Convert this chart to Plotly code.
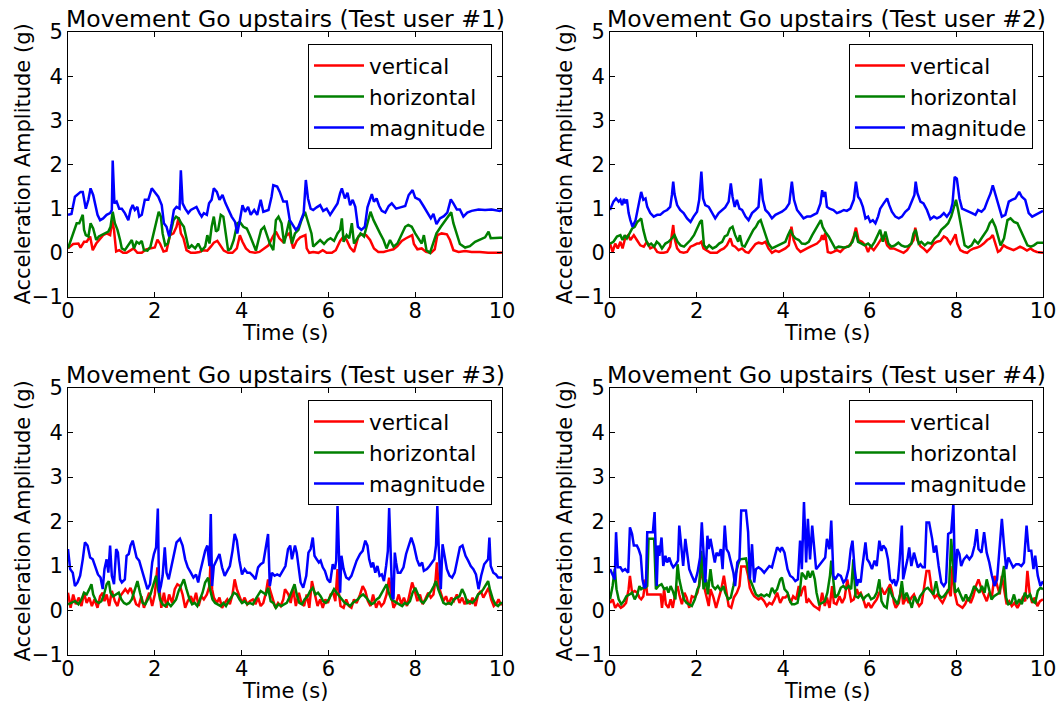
import plotly.graph_objects as go

# ---- Test user #1 ----
u1_vertical_t = [0.0, 0.12, 0.24, 0.29, 0.37, 0.43, 0.51, 0.57, 0.65, 0.74, 0.81, 0.89, 0.97, 1.02, 1.06, 1.11, 1.18, 1.27, 1.35, 1.43, 1.51, 1.6, 1.7, 1.8, 1.9, 2.0, 2.06, 2.12, 2.2, 2.27, 2.35, 2.43, 2.5, 2.55, 2.6, 2.66, 2.73, 2.83, 2.93, 3.03, 3.12, 3.21, 3.29, 3.36, 3.44, 3.52, 3.59, 3.69, 3.79, 3.89, 3.96, 4.02, 4.1, 4.19, 4.31, 4.41, 4.52, 4.62, 4.72, 4.79, 4.87, 4.95, 5.04, 5.1, 5.19, 5.27, 5.35, 5.42, 5.47, 5.5, 5.56, 5.65, 5.77, 5.87, 5.96, 6.08, 6.17, 6.27, 6.35, 6.42, 6.5, 6.59, 6.69, 6.77, 6.87, 6.96, 7.05, 7.15, 7.27, 7.38, 7.5, 7.59, 7.69, 7.79, 7.87, 7.93, 7.97, 8.05, 8.15, 8.25, 8.36, 8.45, 8.51, 8.61, 8.73, 8.8, 8.88, 9.0, 9.15, 9.3, 9.49, 9.68, 9.95, 10.0]
u1_vertical = [0.1, 0.2, 0.21, 0.12, 0.25, 0.25, 0.37, 0.06, 0.21, 0.33, 0.4, 0.44, 0.4, 0.74, 0.52, 0.03, 0.06, 0.0, 0.0, 0.05, 0.1, 0.0, 0.0, 0.08, 0.1, 0.12, 0.3, 0.21, 0.03, 0.05, 0.4, 0.44, 0.59, 0.8, 0.44, 0.33, 0.06, 0.0, 0.0, 0.02, 0.06, 0.05, 0.14, 0.23, 0.27, 0.14, 0.05, 0.0, 0.0, 0.1, 0.4, 0.25, 0.1, 0.02, 0.0, 0.02, 0.1, 0.17, 0.37, 0.48, 0.33, 0.25, 0.4, 0.44, 0.1, 0.27, 0.35, 0.38, 0.4, 0.1, 0.0, 0.02, 0.0, 0.06, 0.0, 0.0, 0.06, 0.27, 0.37, 0.29, 0.12, 0.02, 0.37, 0.42, 0.4, 0.29, 0.1, 0.02, 0.02, 0.05, 0.08, 0.15, 0.27, 0.33, 0.38, 0.4, 0.2, 0.08, 0.1, 0.02, 0.0, 0.08, 0.4, 0.44, 0.42, 0.29, 0.06, 0.02, 0.04, 0.02, 0.02, 0.0, 0.0, 0.01]

u1_horizontal_t = [0.0, 0.07, 0.14, 0.2, 0.26, 0.31, 0.34, 0.37, 0.41, 0.47, 0.52, 0.58, 0.65, 0.71, 0.78, 0.85, 0.93, 0.98, 1.03, 1.08, 1.14, 1.2, 1.24, 1.31, 1.39, 1.47, 1.52, 1.58, 1.64, 1.7, 1.75, 1.83, 1.9, 1.97, 2.03, 2.09, 2.14, 2.18, 2.24, 2.3, 2.37, 2.43, 2.49, 2.55, 2.61, 2.67, 2.72, 2.78, 2.85, 2.93, 3.0, 3.08, 3.16, 3.21, 3.26, 3.31, 3.36, 3.41, 3.46, 3.52, 3.58, 3.63, 3.69, 3.75, 3.82, 3.9, 3.96, 4.04, 4.12, 4.19, 4.27, 4.33, 4.39, 4.45, 4.52, 4.58, 4.65, 4.73, 4.79, 4.85, 4.92, 4.98, 5.04, 5.1, 5.16, 5.23, 5.31, 5.38, 5.46, 5.54, 5.61, 5.65, 5.73, 5.81, 5.9, 5.98, 6.05, 6.13, 6.21, 6.27, 6.31, 6.35, 6.42, 6.48, 6.54, 6.59, 6.67, 6.74, 6.82, 6.9, 6.97, 7.04, 7.11, 7.19, 7.27, 7.34, 7.42, 7.5, 7.59, 7.69, 7.77, 7.84, 7.92, 8.0, 8.07, 8.15, 8.2, 8.26, 8.34, 8.4, 8.49, 8.59, 8.69, 8.76, 8.83, 8.88, 8.96, 9.03, 9.15, 9.26, 9.38, 9.49, 9.61, 9.69, 9.74, 9.95, 10.0]
u1_horizontal = [0.1, 0.29, 0.52, 0.67, 0.67, 0.78, 0.86, 0.52, 0.4, 0.37, 0.67, 0.55, 0.29, 0.37, 0.4, 0.44, 0.48, 0.59, 0.93, 0.67, 0.52, 0.29, 0.1, 0.06, 0.17, 0.29, 0.1, 0.25, 0.21, 0.27, 0.06, 0.05, 0.14, 0.44, 0.74, 0.93, 0.82, 0.44, 0.17, 0.21, 0.48, 0.74, 0.82, 0.78, 0.67, 0.59, 0.37, 0.1, 0.17, 0.1, 0.21, 0.05, 0.14, 0.4, 0.21, 0.59, 0.82, 0.48, 0.52, 0.86, 0.82, 0.44, 0.05, 0.1, 0.29, 0.67, 0.7, 0.59, 0.55, 0.4, 0.17, 0.05, 0.29, 0.52, 0.59, 0.4, 0.21, 0.06, 0.74, 0.82, 0.67, 0.21, 0.52, 0.74, 0.21, 0.44, 0.52, 0.74, 0.93, 0.67, 0.44, 0.14, 0.21, 0.29, 0.2, 0.29, 0.33, 0.27, 0.44, 0.52, 0.78, 0.25, 0.4, 0.33, 0.67, 0.21, 0.33, 0.44, 0.37, 0.67, 0.93, 0.74, 0.59, 0.44, 0.29, 0.1, 0.29, 0.14, 0.21, 0.44, 0.59, 0.63, 0.59, 0.44, 0.33, 0.21, 0.4, 0.06, 0.0, 0.17, 0.44, 0.59, 0.74, 0.82, 0.92, 0.67, 0.4, 0.2, 0.12, 0.15, 0.25, 0.3, 0.35, 0.48, 0.33, 0.34, 0.34]

u1_magnitude_t = [0.0, 0.08, 0.16, 0.24, 0.29, 0.34, 0.37, 0.41, 0.47, 0.52, 0.58, 0.62, 0.68, 0.74, 0.81, 0.89, 0.97, 1.01, 1.03, 1.07, 1.12, 1.18, 1.24, 1.31, 1.39, 1.44, 1.49, 1.54, 1.6, 1.64, 1.7, 1.77, 1.85, 1.93, 2.0, 2.08, 2.16, 2.21, 2.27, 2.33, 2.39, 2.44, 2.5, 2.57, 2.6, 2.64, 2.7, 2.77, 2.83, 2.89, 2.96, 3.03, 3.08, 3.13, 3.2, 3.25, 3.31, 3.36, 3.43, 3.49, 3.56, 3.63, 3.69, 3.77, 3.85, 3.9, 3.96, 4.02, 4.08, 4.15, 4.21, 4.29, 4.36, 4.44, 4.5, 4.62, 4.69, 4.73, 4.82, 4.88, 4.96, 5.04, 5.11, 5.19, 5.25, 5.31, 5.38, 5.43, 5.48, 5.53, 5.59, 5.65, 5.73, 5.81, 5.88, 5.96, 6.04, 6.12, 6.21, 6.27, 6.31, 6.38, 6.44, 6.5, 6.56, 6.62, 6.68, 6.76, 6.84, 6.9, 6.96, 7.0, 7.05, 7.11, 7.17, 7.23, 7.31, 7.39, 7.46, 7.56, 7.66, 7.77, 7.85, 7.94, 8.0, 8.1, 8.19, 8.26, 8.36, 8.42, 8.49, 8.57, 8.66, 8.74, 8.82, 8.88, 8.96, 9.03, 9.11, 9.2, 9.3, 9.46, 9.61, 9.76, 9.95, 10.0]
u1_magnitude = [0.86, 0.88, 1.27, 1.35, 1.38, 1.38, 1.2, 1.0, 1.2, 1.46, 1.31, 1.12, 0.86, 0.74, 0.78, 0.86, 0.9, 0.97, 2.09, 1.12, 1.16, 1.0, 1.0, 0.9, 0.74, 0.97, 1.08, 0.97, 1.04, 0.82, 0.86, 1.2, 1.2, 1.46, 1.38, 1.27, 1.08, 0.67, 0.59, 0.37, 0.67, 0.97, 1.04, 1.0, 1.87, 1.12, 1.0, 0.9, 0.97, 1.0, 1.04, 0.9, 0.82, 0.9, 0.86, 1.12, 1.2, 1.46, 1.38, 1.2, 1.31, 1.12, 1.0, 0.82, 0.7, 0.44, 0.74, 1.08, 0.93, 1.04, 0.86, 0.97, 0.86, 1.2, 0.93, 0.97, 1.27, 1.53, 1.5, 1.38, 1.16, 1.16, 0.74, 0.63, 0.52, 0.59, 0.78, 0.9, 1.65, 1.23, 1.0, 0.97, 1.03, 1.08, 0.95, 1.0, 0.86, 0.97, 1.12, 1.35, 1.46, 1.23, 1.36, 1.08, 1.2, 1.04, 0.59, 0.52, 0.59, 1.03, 1.2, 1.33, 1.16, 1.23, 1.06, 0.95, 0.91, 1.06, 1.12, 1.0, 1.03, 1.06, 1.31, 1.42, 1.25, 1.2, 1.06, 0.95, 0.78, 0.88, 0.65, 0.78, 0.83, 0.91, 1.21, 1.12, 0.98, 0.98, 0.82, 0.91, 0.95, 0.98, 0.97, 0.98, 0.95, 0.97]

# ---- Test user #2 ----
u2_vertical_t = [0.0, 0.06, 0.12, 0.18, 0.24, 0.29, 0.35, 0.42, 0.47, 0.55, 0.62, 0.7, 0.78, 0.85, 0.93, 1.01, 1.09, 1.16, 1.24, 1.32, 1.39, 1.43, 1.46, 1.49, 1.55, 1.62, 1.7, 1.78, 1.86, 1.93, 2.01, 2.06, 2.11, 2.16, 2.24, 2.32, 2.39, 2.47, 2.55, 2.63, 2.7, 2.78, 2.83, 2.89, 2.97, 3.05, 3.13, 3.2, 3.28, 3.36, 3.43, 3.51, 3.59, 3.66, 3.74, 3.82, 3.9, 3.97, 4.05, 4.13, 4.19, 4.24, 4.32, 4.4, 4.47, 4.55, 4.63, 4.7, 4.78, 4.86, 4.9, 4.93, 4.97, 5.03, 5.1, 5.16, 5.24, 5.32, 5.4, 5.47, 5.55, 5.63, 5.68, 5.74, 5.82, 5.9, 5.96, 6.01, 6.09, 6.17, 6.24, 6.32, 6.4, 6.47, 6.55, 6.63, 6.71, 6.78, 6.86, 6.94, 7.01, 7.05, 7.1, 7.17, 7.24, 7.32, 7.4, 7.48, 7.55, 7.63, 7.71, 7.78, 7.86, 7.91, 7.98, 8.02, 8.09, 8.17, 8.25, 8.32, 8.4, 8.48, 8.55, 8.63, 8.71, 8.78, 8.84, 8.9, 8.96, 9.01, 9.09, 9.17, 9.25, 9.32, 9.4, 9.47, 9.55, 9.63, 9.71, 9.78, 9.86, 10.0]
u2_vertical = [0.21, 0.02, 0.21, 0.1, 0.25, 0.1, 0.33, 0.4, 0.29, 0.4, 0.29, 0.17, 0.14, 0.25, 0.1, 0.14, 0.02, 0.0, 0.0, 0.02, 0.14, 0.37, 0.63, 0.33, 0.1, 0.02, 0.0, 0.02, 0.14, 0.17, 0.21, 0.21, 0.25, 0.1, 0.05, 0.0, 0.0, 0.0, 0.06, 0.1, 0.17, 0.33, 0.17, 0.14, 0.06, 0.1, 0.02, 0.0, 0.1, 0.2, 0.23, 0.21, 0.25, 0.1, 0.0, 0.05, 0.02, 0.05, 0.1, 0.17, 0.59, 0.29, 0.1, 0.02, 0.05, 0.1, 0.14, 0.17, 0.21, 0.29, 0.4, 0.29, 0.44, 0.02, 0.0, 0.02, 0.06, 0.02, 0.1, 0.14, 0.17, 0.37, 0.57, 0.29, 0.25, 0.17, 0.02, 0.14, 0.06, 0.17, 0.29, 0.4, 0.17, 0.1, 0.1, 0.06, 0.02, 0.0, 0.06, 0.17, 0.29, 0.57, 0.29, 0.15, 0.1, 0.02, 0.1, 0.21, 0.25, 0.27, 0.37, 0.33, 0.21, 0.29, 0.42, 0.21, 0.06, 0.02, 0.0, 0.06, 0.1, 0.12, 0.15, 0.21, 0.29, 0.33, 0.4, 0.21, 0.02, 0.05, 0.17, 0.12, 0.08, 0.06, 0.1, 0.14, 0.1, 0.05, 0.1, 0.05, 0.02, 0.0]

u2_horizontal_t = [0.0, 0.08, 0.16, 0.24, 0.29, 0.34, 0.39, 0.45, 0.51, 0.57, 0.63, 0.68, 0.72, 0.77, 0.83, 0.89, 0.95, 1.02, 1.08, 1.14, 1.2, 1.28, 1.35, 1.43, 1.49, 1.56, 1.63, 1.71, 1.79, 1.86, 1.94, 2.02, 2.08, 2.12, 2.17, 2.23, 2.29, 2.37, 2.45, 2.52, 2.59, 2.65, 2.71, 2.77, 2.83, 2.89, 2.96, 3.0, 3.05, 3.11, 3.17, 3.25, 3.31, 3.37, 3.43, 3.48, 3.53, 3.59, 3.66, 3.74, 3.82, 3.9, 3.97, 4.05, 4.11, 4.17, 4.22, 4.28, 4.36, 4.43, 4.51, 4.59, 4.67, 4.74, 4.8, 4.87, 4.91, 4.97, 5.05, 5.13, 5.2, 5.28, 5.4, 5.51, 5.6, 5.67, 5.73, 5.81, 5.88, 5.96, 6.04, 6.11, 6.19, 6.24, 6.3, 6.36, 6.43, 6.5, 6.58, 6.66, 6.73, 6.81, 6.88, 6.96, 7.01, 7.06, 7.13, 7.19, 7.27, 7.34, 7.42, 7.5, 7.58, 7.65, 7.73, 7.81, 7.88, 7.94, 7.99, 8.04, 8.08, 8.13, 8.19, 8.27, 8.35, 8.42, 8.5, 8.58, 8.65, 8.71, 8.77, 8.83, 8.9, 8.96, 9.02, 9.1, 9.18, 9.25, 9.33, 9.41, 9.48, 9.56, 9.64, 9.72, 9.79, 9.87, 10.0]
u2_horizontal = [0.21, 0.25, 0.37, 0.4, 0.29, 0.4, 0.33, 0.44, 0.55, 0.59, 0.7, 0.74, 0.78, 0.52, 0.29, 0.17, 0.21, 0.14, 0.25, 0.2, 0.1, 0.21, 0.25, 0.33, 0.4, 0.25, 0.17, 0.14, 0.21, 0.29, 0.4, 0.59, 0.7, 0.74, 0.17, 0.1, 0.17, 0.1, 0.14, 0.21, 0.25, 0.37, 0.4, 0.55, 0.59, 0.4, 0.25, 0.4, 0.17, 0.14, 0.25, 0.4, 0.52, 0.59, 0.7, 0.74, 0.59, 0.4, 0.21, 0.1, 0.14, 0.17, 0.2, 0.25, 0.4, 0.52, 0.4, 0.33, 0.29, 0.21, 0.2, 0.25, 0.4, 0.52, 0.59, 0.74, 0.59, 0.48, 0.37, 0.21, 0.1, 0.14, 0.12, 0.14, 0.25, 0.48, 0.25, 0.21, 0.17, 0.21, 0.14, 0.25, 0.4, 0.52, 0.25, 0.48, 0.21, 0.14, 0.17, 0.23, 0.17, 0.14, 0.15, 0.21, 0.44, 0.52, 0.21, 0.25, 0.17, 0.23, 0.21, 0.33, 0.4, 0.52, 0.59, 0.67, 0.82, 1.0, 1.2, 0.97, 0.74, 0.52, 0.17, 0.12, 0.17, 0.29, 0.21, 0.33, 0.44, 0.52, 0.67, 0.74, 0.59, 0.4, 0.17, 0.33, 0.74, 0.78, 0.7, 0.67, 0.52, 0.37, 0.17, 0.14, 0.17, 0.23, 0.23]

u2_magnitude_t = [0.0, 0.08, 0.14, 0.2, 0.24, 0.28, 0.32, 0.35, 0.39, 0.43, 0.47, 0.52, 0.59, 0.65, 0.69, 0.72, 0.77, 0.82, 0.86, 0.93, 1.01, 1.09, 1.16, 1.24, 1.32, 1.39, 1.43, 1.46, 1.49, 1.55, 1.62, 1.7, 1.78, 1.86, 1.93, 2.01, 2.06, 2.11, 2.15, 2.2, 2.28, 2.36, 2.43, 2.51, 2.59, 2.66, 2.74, 2.79, 2.83, 2.88, 2.93, 2.99, 3.05, 3.13, 3.2, 3.28, 3.36, 3.43, 3.48, 3.53, 3.59, 3.66, 3.74, 3.82, 3.9, 3.97, 4.06, 4.14, 4.2, 4.25, 4.32, 4.4, 4.47, 4.55, 4.63, 4.7, 4.78, 4.86, 4.9, 4.93, 4.97, 5.01, 5.07, 5.16, 5.24, 5.32, 5.4, 5.47, 5.55, 5.63, 5.68, 5.73, 5.78, 5.84, 5.9, 5.96, 6.01, 6.07, 6.13, 6.19, 6.24, 6.32, 6.4, 6.45, 6.51, 6.59, 6.67, 6.74, 6.82, 6.9, 6.97, 7.03, 7.06, 7.1, 7.17, 7.24, 7.32, 7.4, 7.48, 7.55, 7.63, 7.71, 7.78, 7.86, 7.91, 7.96, 8.01, 8.07, 8.13, 8.21, 8.28, 8.36, 8.44, 8.5, 8.58, 8.65, 8.71, 8.79, 8.84, 8.9, 8.98, 9.05, 9.13, 9.21, 9.28, 9.36, 9.45, 9.51, 9.59, 9.67, 9.75, 9.82, 9.9, 10.0]
u2_magnitude = [0.97, 1.16, 1.23, 1.16, 1.2, 1.08, 1.22, 1.12, 1.21, 0.9, 0.74, 0.59, 0.74, 1.04, 1.2, 1.38, 1.2, 1.23, 1.04, 0.9, 0.82, 0.86, 0.86, 0.93, 0.97, 1.04, 1.31, 1.61, 1.33, 1.08, 0.97, 0.9, 0.78, 0.7, 0.82, 0.93, 1.2, 1.84, 1.23, 1.08, 1.04, 0.9, 0.78, 0.9, 0.97, 1.03, 1.16, 1.57, 1.27, 1.04, 1.2, 1.0, 0.97, 0.82, 0.74, 0.9, 0.97, 1.04, 1.68, 1.2, 0.97, 0.9, 0.78, 0.86, 0.9, 0.93, 1.0, 1.12, 1.61, 1.2, 0.97, 0.86, 0.78, 0.82, 0.82, 0.86, 0.9, 1.12, 1.42, 1.27, 1.38, 1.04, 1.0, 0.97, 0.9, 0.93, 0.97, 0.95, 1.0, 1.2, 1.61, 1.27, 1.2, 1.04, 0.78, 0.82, 0.7, 0.74, 0.67, 0.82, 1.0, 1.12, 1.23, 1.08, 0.93, 0.82, 0.78, 0.82, 0.93, 1.0, 1.16, 1.31, 1.61, 1.35, 1.16, 1.12, 0.97, 0.76, 0.82, 0.78, 0.82, 0.9, 0.82, 0.93, 1.12, 1.72, 1.68, 1.23, 1.0, 0.97, 0.93, 0.9, 0.86, 0.97, 0.93, 1.0, 1.16, 1.35, 1.53, 1.31, 1.08, 0.82, 0.86, 1.16, 1.2, 1.23, 1.38, 1.27, 1.2, 0.9, 0.82, 0.86, 0.9, 0.95]

# ---- Test user #3 ----
u3_vertical_t = [0.0, 0.06, 0.12, 0.18, 0.25, 0.31, 0.37, 0.43, 0.49, 0.55, 0.61, 0.68, 0.74, 0.8, 0.84, 0.89, 0.95, 1.01, 1.08, 1.14, 1.2, 1.26, 1.32, 1.38, 1.44, 1.51, 1.57, 1.63, 1.69, 1.75, 1.81, 1.87, 1.94, 2.0, 2.06, 2.1, 2.15, 2.21, 2.27, 2.33, 2.4, 2.46, 2.52, 2.58, 2.64, 2.7, 2.76, 2.83, 2.89, 2.95, 3.01, 3.07, 3.13, 3.2, 3.26, 3.29, 3.32, 3.36, 3.43, 3.49, 3.55, 3.61, 3.67, 3.73, 3.79, 3.84, 3.89, 3.95, 4.01, 4.07, 4.13, 4.19, 4.26, 4.32, 4.38, 4.44, 4.5, 4.56, 4.61, 4.65, 4.72, 4.78, 4.84, 4.9, 4.96, 5.0, 5.08, 5.13, 5.19, 5.25, 5.32, 5.38, 5.44, 5.5, 5.56, 5.62, 5.68, 5.75, 5.81, 5.87, 5.93, 5.99, 6.05, 6.11, 6.16, 6.21, 6.24, 6.28, 6.35, 6.41, 6.47, 6.53, 6.59, 6.65, 6.73, 6.79, 6.85, 6.91, 6.97, 7.03, 7.1, 7.16, 7.22, 7.28, 7.34, 7.4, 7.45, 7.5, 7.56, 7.62, 7.68, 7.74, 7.81, 7.87, 7.93, 7.99, 8.05, 8.11, 8.17, 8.23, 8.3, 8.36, 8.42, 8.47, 8.5, 8.54, 8.59, 8.65, 8.71, 8.77, 8.83, 8.89, 8.96, 9.02, 9.08, 9.14, 9.2, 9.26, 9.32, 9.39, 9.45, 9.51, 9.57, 9.63, 9.69, 9.75, 9.81, 9.88, 9.92, 9.97, 10.0]
u3_vertical = [0.4, 0.06, 0.36, 0.14, 0.29, 0.1, 0.4, 0.17, 0.29, 0.1, 0.25, 0.06, 0.32, 0.4, 0.21, 0.36, 0.1, 0.44, 0.21, 0.1, 0.32, 0.4, 0.48, 0.4, 0.51, 0.32, 0.14, 0.1, 0.32, 0.06, 0.25, 0.4, 0.1, 0.36, 0.97, 0.48, 0.06, 0.4, 0.06, 0.36, 0.17, 0.48, 0.59, 0.55, 0.36, 0.06, 0.21, 0.32, 0.17, 0.4, 0.1, 0.32, 0.25, 0.36, 0.55, 1.23, 0.48, 0.29, 0.17, 0.29, 0.06, 0.17, 0.25, 0.14, 0.36, 0.7, 0.48, 0.32, 0.17, 0.29, 0.14, 0.21, 0.25, 0.14, 0.29, 0.1, 0.17, 0.4, 0.7, 0.48, 0.25, 0.06, 0.17, 0.1, 0.25, 0.48, 0.36, 0.17, 0.48, 0.1, 0.4, 0.17, 0.1, 0.36, 0.06, 0.66, 0.4, 0.1, 0.25, 0.06, 0.25, 0.17, 0.36, 0.4, 0.21, 0.93, 0.4, 0.1, 0.06, 0.25, 0.1, 0.06, 0.25, 0.17, 0.36, 0.55, 0.44, 0.21, 0.1, 0.36, 0.06, 0.21, 0.1, 0.17, 0.36, 0.74, 0.32, 0.06, 0.17, 0.36, 0.14, 0.29, 0.1, 0.36, 0.63, 0.44, 0.21, 0.36, 0.14, 0.25, 0.4, 0.29, 0.36, 0.7, 1.08, 0.55, 0.4, 0.21, 0.32, 0.14, 0.29, 0.21, 0.36, 0.17, 0.29, 0.14, 0.25, 0.14, 0.29, 0.1, 0.36, 0.44, 0.29, 0.4, 0.51, 0.25, 0.1, 0.17, 0.25, 0.14, 0.14]

u3_horizontal_t = [0.0, 0.08, 0.16, 0.24, 0.31, 0.37, 0.43, 0.49, 0.54, 0.58, 0.65, 0.71, 0.77, 0.83, 0.89, 0.94, 0.98, 1.04, 1.11, 1.17, 1.23, 1.29, 1.35, 1.41, 1.47, 1.54, 1.6, 1.66, 1.72, 1.78, 1.84, 1.9, 1.97, 2.03, 2.07, 2.12, 2.18, 2.24, 2.3, 2.37, 2.43, 2.49, 2.55, 2.61, 2.67, 2.73, 2.8, 2.86, 2.92, 2.98, 3.04, 3.1, 3.16, 3.23, 3.27, 3.33, 3.39, 3.46, 3.52, 3.58, 3.64, 3.7, 3.76, 3.82, 3.89, 3.95, 4.01, 4.07, 4.13, 4.19, 4.26, 4.32, 4.38, 4.44, 4.5, 4.56, 4.61, 4.67, 4.73, 4.79, 4.85, 4.92, 4.98, 5.04, 5.08, 5.13, 5.18, 5.22, 5.27, 5.33, 5.39, 5.45, 5.52, 5.58, 5.64, 5.7, 5.76, 5.82, 5.88, 5.94, 6.01, 6.07, 6.13, 6.19, 6.25, 6.31, 6.38, 6.44, 6.5, 6.56, 6.62, 6.68, 6.74, 6.8, 6.87, 6.93, 6.99, 7.05, 7.11, 7.17, 7.23, 7.3, 7.34, 7.39, 7.45, 7.51, 7.57, 7.63, 7.7, 7.76, 7.82, 7.88, 7.94, 8.0, 8.06, 8.13, 8.19, 8.25, 8.31, 8.37, 8.43, 8.48, 8.53, 8.59, 8.65, 8.71, 8.77, 8.83, 8.89, 8.96, 9.02, 9.08, 9.14, 9.2, 9.26, 9.32, 9.39, 9.45, 9.51, 9.57, 9.63, 9.68, 9.72, 9.79, 9.85, 9.91, 9.97, 10.0]
u3_horizontal = [0.14, 0.17, 0.21, 0.14, 0.25, 0.4, 0.36, 0.48, 0.59, 0.36, 0.21, 0.17, 0.21, 0.36, 0.59, 0.66, 0.4, 0.32, 0.36, 0.4, 0.25, 0.17, 0.14, 0.17, 0.25, 0.48, 0.66, 0.4, 0.17, 0.14, 0.25, 0.36, 0.59, 0.78, 0.51, 0.25, 0.14, 0.1, 0.17, 0.1, 0.17, 0.25, 0.44, 0.59, 0.7, 0.48, 0.25, 0.14, 0.17, 0.1, 0.25, 0.4, 0.63, 0.74, 0.48, 0.25, 0.17, 0.14, 0.1, 0.17, 0.1, 0.21, 0.29, 0.4, 0.36, 0.25, 0.17, 0.21, 0.14, 0.17, 0.14, 0.25, 0.36, 0.44, 0.4, 0.36, 0.51, 0.21, 0.17, 0.06, 0.14, 0.1, 0.14, 0.17, 0.25, 0.36, 0.48, 0.59, 0.36, 0.17, 0.14, 0.25, 0.32, 0.44, 0.51, 0.36, 0.4, 0.32, 0.21, 0.17, 0.25, 0.36, 0.48, 0.4, 0.32, 0.25, 0.17, 0.14, 0.1, 0.17, 0.21, 0.25, 0.32, 0.36, 0.29, 0.21, 0.14, 0.17, 0.25, 0.29, 0.4, 0.51, 0.59, 0.4, 0.25, 0.21, 0.17, 0.14, 0.1, 0.17, 0.14, 0.21, 0.4, 0.51, 0.36, 0.21, 0.17, 0.25, 0.36, 0.44, 0.55, 0.66, 0.48, 0.32, 0.17, 0.14, 0.17, 0.14, 0.25, 0.29, 0.32, 0.48, 0.36, 0.17, 0.21, 0.17, 0.25, 0.36, 0.4, 0.48, 0.59, 0.66, 0.48, 0.25, 0.14, 0.1, 0.17, 0.17]

u3_magnitude_t = [0.0, 0.05, 0.11, 0.16, 0.22, 0.28, 0.34, 0.39, 0.45, 0.51, 0.57, 0.63, 0.69, 0.75, 0.8, 0.84, 0.89, 0.93, 0.97, 1.01, 1.06, 1.11, 1.15, 1.2, 1.24, 1.31, 1.35, 1.4, 1.44, 1.49, 1.54, 1.58, 1.64, 1.71, 1.77, 1.83, 1.89, 1.94, 1.98, 2.03, 2.07, 2.1, 2.14, 2.18, 2.23, 2.27, 2.32, 2.38, 2.44, 2.5, 2.58, 2.64, 2.7, 2.76, 2.83, 2.89, 2.95, 3.0, 3.04, 3.1, 3.16, 3.21, 3.26, 3.29, 3.32, 3.36, 3.43, 3.49, 3.55, 3.61, 3.67, 3.73, 3.79, 3.84, 3.89, 3.95, 4.01, 4.07, 4.13, 4.19, 4.26, 4.32, 4.38, 4.44, 4.5, 4.56, 4.61, 4.65, 4.7, 4.76, 4.82, 4.88, 4.95, 5.01, 5.07, 5.12, 5.16, 5.23, 5.27, 5.32, 5.36, 5.42, 5.49, 5.54, 5.59, 5.64, 5.68, 5.73, 5.78, 5.82, 5.87, 5.92, 5.98, 6.04, 6.1, 6.15, 6.18, 6.21, 6.24, 6.27, 6.3, 6.35, 6.41, 6.47, 6.53, 6.59, 6.65, 6.73, 6.79, 6.85, 6.9, 6.94, 6.99, 7.03, 7.08, 7.13, 7.18, 7.23, 7.28, 7.33, 7.37, 7.4, 7.44, 7.47, 7.5, 7.53, 7.56, 7.6, 7.66, 7.73, 7.79, 7.85, 7.91, 7.97, 8.04, 8.1, 8.16, 8.2, 8.27, 8.33, 8.39, 8.44, 8.48, 8.51, 8.54, 8.59, 8.63, 8.68, 8.73, 8.79, 8.85, 8.91, 8.97, 9.03, 9.09, 9.16, 9.22, 9.28, 9.34, 9.4, 9.46, 9.52, 9.59, 9.63, 9.68, 9.71, 9.74, 9.8, 9.86, 9.91, 9.97, 10.0]
u3_magnitude = [1.38, 0.93, 0.85, 0.55, 0.63, 0.78, 1.15, 1.53, 1.46, 1.19, 1.15, 0.97, 0.81, 0.74, 0.48, 0.93, 1.15, 0.85, 1.46, 0.78, 0.59, 1.38, 1.3, 0.7, 0.63, 0.7, 1.23, 1.27, 1.46, 1.57, 1.38, 1.19, 1.12, 0.89, 0.7, 0.48, 0.59, 1.08, 1.27, 1.42, 2.29, 0.4, 0.55, 0.78, 1.42, 0.85, 0.7, 1.0, 1.27, 1.53, 1.61, 1.46, 1.15, 0.97, 0.85, 0.74, 0.81, 0.63, 0.85, 1.08, 1.34, 1.46, 1.0, 2.17, 0.55, 1.0, 1.15, 1.27, 0.97, 0.78, 0.89, 1.0, 1.34, 1.72, 1.57, 1.12, 0.81, 0.93, 0.85, 0.85, 0.78, 0.7, 0.97, 1.04, 1.08, 1.42, 1.72, 0.55, 0.85, 0.78, 0.81, 0.78, 0.89, 1.0, 1.38, 1.46, 1.15, 1.46, 1.3, 0.93, 0.63, 0.51, 0.78, 1.3, 1.38, 1.64, 1.23, 1.15, 1.08, 1.12, 0.97, 0.89, 0.7, 0.63, 1.04, 0.93, 1.12, 2.35, 1.0, 0.4, 1.23, 0.93, 0.74, 0.7, 0.78, 0.93, 1.12, 1.27, 1.34, 1.57, 1.46, 1.15, 0.97, 1.08, 0.85, 1.0, 0.78, 0.81, 0.66, 1.0, 1.34, 2.3, 1.3, 0.32, 0.25, 1.3, 1.08, 0.85, 0.85, 0.97, 1.27, 1.46, 1.64, 1.46, 1.15, 1.0, 1.08, 0.89, 0.93, 1.0, 1.08, 1.15, 1.46, 2.35, 1.46, 0.48, 1.49, 1.23, 0.93, 0.78, 0.74, 0.85, 1.15, 1.42, 1.46, 1.23, 1.12, 1.0, 0.93, 0.81, 0.48, 0.78, 1.04, 1.08, 1.15, 1.64, 1.0, 0.85, 0.81, 0.74, 0.74, 0.74]

# ---- Test user #4 ----
u4_vertical_t = [0.0, 0.06, 0.12, 0.18, 0.25, 0.31, 0.37, 0.43, 0.46, 0.51, 0.57, 0.63, 0.68, 0.72, 0.77, 0.82, 0.86, 1.17, 1.2, 1.25, 1.29, 1.35, 1.4, 1.45, 1.51, 1.56, 1.6, 1.66, 1.72, 1.77, 1.83, 1.89, 1.96, 2.02, 2.08, 2.12, 2.17, 2.22, 2.28, 2.32, 2.39, 2.45, 2.51, 2.57, 2.63, 2.68, 2.74, 2.8, 2.86, 2.93, 2.99, 3.03, 3.14, 3.19, 3.23, 3.28, 3.33, 3.37, 3.43, 3.49, 3.56, 3.62, 3.68, 3.74, 3.8, 3.86, 3.93, 3.99, 4.05, 4.11, 4.17, 4.23, 4.3, 4.36, 4.4, 4.45, 4.5, 4.54, 4.59, 4.65, 4.71, 4.77, 4.83, 4.9, 4.96, 5.01, 5.07, 5.13, 5.17, 5.23, 5.3, 5.36, 5.42, 5.48, 5.53, 5.57, 5.63, 5.7, 5.74, 5.79, 5.85, 5.91, 5.97, 6.03, 6.1, 6.16, 6.22, 6.28, 6.34, 6.4, 6.47, 6.52, 6.56, 6.6, 6.67, 6.73, 6.77, 6.84, 6.9, 6.96, 7.02, 7.08, 7.14, 7.2, 7.27, 7.31, 7.37, 7.44, 7.5, 7.56, 7.62, 7.68, 7.74, 7.81, 7.87, 7.91, 7.96, 8.02, 8.08, 8.14, 8.2, 8.27, 8.33, 8.39, 8.45, 8.51, 8.58, 8.64, 8.7, 8.76, 8.82, 8.88, 8.94, 9.0, 9.05, 9.1, 9.16, 9.22, 9.28, 9.34, 9.41, 9.47, 9.53, 9.59, 9.64, 9.69, 9.75, 9.81, 9.87, 9.93, 10.0]
u4_vertical = [0.17, 0.25, 0.06, 0.14, 0.06, 0.1, 0.17, 0.48, 0.78, 0.4, 0.44, 0.4, 0.29, 0.25, 0.32, 0.7, 0.36, 0.36, 0.06, 0.48, 0.14, 0.06, 0.25, 0.06, 0.4, 0.55, 0.36, 0.14, 0.4, 0.29, 0.06, 0.32, 0.29, 0.4, 0.7, 0.93, 0.55, 0.32, 0.1, 0.48, 0.29, 0.06, 0.25, 0.48, 0.78, 0.48, 0.1, 0.06, 0.29, 0.4, 0.55, 0.99, 0.99, 0.78, 0.51, 0.4, 0.32, 0.29, 0.25, 0.29, 0.21, 0.1, 0.17, 0.14, 0.25, 0.4, 0.17, 0.29, 0.29, 0.36, 0.17, 0.32, 0.25, 0.55, 0.32, 0.48, 0.55, 0.17, 0.25, 0.17, 0.1, 0.06, 0.02, 0.4, 0.1, 0.29, 0.06, 0.55, 0.17, 0.14, 0.32, 0.17, 0.29, 0.7, 0.4, 0.21, 0.25, 0.48, 0.36, 0.4, 0.25, 0.06, 0.17, 0.06, 0.17, 0.25, 0.4, 0.48, 0.36, 0.48, 0.59, 0.4, 0.17, 0.06, 0.17, 0.55, 0.14, 0.29, 0.17, 0.29, 0.36, 0.21, 0.1, 0.17, 0.7, 0.89, 0.89, 0.4, 0.29, 0.36, 0.25, 0.17, 0.29, 0.48, 0.32, 1.0, 0.4, 0.14, 0.1, 0.06, 0.14, 0.29, 0.17, 0.32, 0.55, 0.7, 0.48, 0.36, 0.21, 0.4, 0.32, 0.78, 0.55, 0.36, 0.78, 0.48, 0.14, 0.21, 0.1, 0.17, 0.06, 0.17, 0.29, 0.21, 0.89, 0.4, 0.17, 0.29, 0.1, 0.21, 0.25]

u4_horizontal_t = [0.0, 0.06, 0.11, 0.15, 0.2, 0.26, 0.32, 0.38, 0.45, 0.51, 0.57, 0.63, 0.68, 0.72, 0.77, 0.82, 0.86, 0.89, 1.02, 1.06, 1.12, 1.19, 1.25, 1.31, 1.35, 1.4, 1.45, 1.51, 1.56, 1.6, 1.65, 1.71, 1.77, 1.83, 1.89, 1.96, 2.02, 2.06, 2.11, 2.16, 2.22, 2.26, 2.32, 2.37, 2.43, 2.49, 2.56, 2.62, 2.66, 2.73, 2.79, 2.85, 2.89, 2.96, 3.0, 3.14, 3.19, 3.23, 3.28, 3.33, 3.37, 3.43, 3.49, 3.56, 3.62, 3.68, 3.74, 3.8, 3.86, 3.93, 3.97, 4.03, 4.1, 4.14, 4.2, 4.26, 4.33, 4.39, 4.43, 4.48, 4.53, 4.57, 4.62, 4.68, 4.73, 4.77, 4.83, 4.9, 4.96, 5.02, 5.08, 5.11, 5.16, 5.2, 5.27, 5.33, 5.39, 5.45, 5.51, 5.57, 5.62, 5.67, 5.73, 5.79, 5.85, 5.91, 5.97, 6.03, 6.1, 6.16, 6.22, 6.27, 6.33, 6.39, 6.45, 6.52, 6.57, 6.64, 6.7, 6.74, 6.79, 6.85, 6.91, 6.97, 7.03, 7.1, 7.16, 7.22, 7.28, 7.34, 7.41, 7.47, 7.53, 7.59, 7.65, 7.71, 7.77, 7.83, 7.88, 7.93, 7.97, 8.04, 8.1, 8.16, 8.22, 8.28, 8.36, 8.41, 8.47, 8.53, 8.59, 8.65, 8.7, 8.75, 8.81, 8.87, 8.93, 8.99, 9.05, 9.1, 9.15, 9.2, 9.27, 9.33, 9.39, 9.45, 9.51, 9.58, 9.64, 9.7, 9.76, 9.82, 9.88, 9.94, 10.0]
u4_horizontal = [0.25, 0.55, 0.93, 0.48, 0.25, 0.14, 0.21, 0.32, 0.36, 0.4, 0.25, 0.36, 0.55, 0.48, 0.51, 0.51, 0.55, 1.61, 1.61, 0.48, 0.55, 0.59, 0.48, 0.51, 0.4, 0.55, 0.44, 0.25, 1.04, 0.7, 0.48, 0.25, 0.17, 0.14, 0.1, 0.25, 0.48, 0.55, 1.34, 0.48, 0.7, 0.36, 0.93, 0.55, 0.48, 0.55, 0.44, 0.55, 0.4, 0.25, 0.29, 0.55, 0.78, 1.04, 1.15, 1.17, 0.93, 0.7, 0.59, 0.48, 0.36, 0.32, 0.36, 0.32, 0.36, 0.32, 0.51, 0.4, 0.48, 0.7, 0.74, 0.48, 0.4, 0.25, 0.14, 0.14, 0.17, 0.48, 0.85, 0.78, 0.7, 0.89, 0.74, 0.89, 0.7, 0.4, 0.14, 0.17, 0.21, 0.4, 0.78, 1.12, 0.7, 0.29, 0.36, 0.51, 0.55, 0.48, 0.55, 0.48, 1.15, 0.32, 0.29, 0.36, 0.25, 0.32, 0.36, 0.25, 0.29, 0.4, 0.7, 0.21, 0.1, 0.06, 0.51, 0.32, 0.25, 0.14, 0.36, 0.66, 0.25, 0.4, 0.25, 0.06, 0.32, 0.17, 0.32, 0.4, 0.48, 0.51, 0.44, 0.36, 0.66, 0.36, 0.29, 0.32, 0.4, 0.48, 1.61, 1.0, 0.4, 0.48, 0.36, 0.21, 0.36, 0.21, 0.4, 0.55, 0.48, 0.4, 0.55, 0.4, 0.7, 0.48, 0.25, 0.32, 0.36, 0.4, 0.7, 1.0, 0.29, 0.14, 0.17, 0.36, 0.14, 0.25, 0.14, 0.4, 0.29, 0.36, 0.21, 0.17, 0.44, 0.51, 0.48]

u4_magnitude_t = [0.0, 0.06, 0.11, 0.14, 0.18, 0.24, 0.29, 0.35, 0.42, 0.46, 0.51, 0.55, 0.62, 0.66, 0.71, 0.75, 0.79, 0.83, 0.86, 0.99, 1.03, 1.08, 1.11, 1.14, 1.19, 1.23, 1.28, 1.32, 1.37, 1.42, 1.46, 1.52, 1.57, 1.6, 1.65, 1.69, 1.74, 1.79, 1.83, 1.89, 1.96, 2.02, 2.08, 2.12, 2.17, 2.2, 2.25, 2.28, 2.32, 2.37, 2.42, 2.46, 2.51, 2.56, 2.6, 2.65, 2.69, 2.74, 2.8, 2.85, 2.89, 2.94, 2.99, 3.03, 3.14, 3.19, 3.23, 3.28, 3.33, 3.37, 3.43, 3.49, 3.56, 3.62, 3.68, 3.74, 3.8, 3.86, 3.93, 3.97, 4.03, 4.1, 4.16, 4.22, 4.28, 4.34, 4.39, 4.43, 4.48, 4.53, 4.57, 4.62, 4.67, 4.71, 4.76, 4.82, 4.88, 4.93, 4.97, 5.01, 5.07, 5.11, 5.16, 5.2, 5.27, 5.33, 5.39, 5.45, 5.51, 5.56, 5.6, 5.65, 5.7, 5.74, 5.79, 5.83, 5.9, 5.94, 5.99, 6.05, 6.11, 6.16, 6.22, 6.27, 6.31, 6.37, 6.42, 6.47, 6.52, 6.56, 6.6, 6.65, 6.69, 6.74, 6.77, 6.82, 6.87, 6.91, 6.96, 7.02, 7.08, 7.11, 7.17, 7.22, 7.27, 7.31, 7.37, 7.44, 7.48, 7.53, 7.59, 7.65, 7.71, 7.76, 7.81, 7.88, 7.93, 7.97, 8.02, 8.07, 8.11, 8.17, 8.24, 8.3, 8.36, 8.42, 8.47, 8.51, 8.58, 8.64, 8.7, 8.76, 8.82, 8.88, 8.94, 9.0, 9.05, 9.1, 9.15, 9.2, 9.25, 9.31, 9.38, 9.44, 9.5, 9.56, 9.62, 9.67, 9.73, 9.78, 9.82, 9.88, 9.94, 10.0]
u4_magnitude = [0.93, 0.81, 0.7, 1.76, 0.97, 0.97, 0.89, 0.93, 0.85, 1.87, 1.72, 1.46, 1.46, 1.38, 1.23, 0.7, 0.51, 0.55, 1.76, 1.76, 2.21, 0.55, 1.46, 1.23, 1.64, 1.0, 1.23, 1.08, 1.19, 1.04, 0.97, 1.04, 1.12, 1.91, 1.46, 1.0, 1.61, 1.15, 0.93, 0.78, 0.63, 0.85, 1.19, 1.98, 1.15, 0.63, 1.68, 1.38, 1.61, 1.38, 1.08, 1.3, 1.23, 1.38, 0.93, 1.91, 1.38, 1.3, 1.08, 0.85, 0.55, 1.08, 1.15, 2.25, 2.25, 1.76, 0.7, 1.49, 0.63, 0.93, 0.97, 0.93, 0.85, 0.93, 1.0, 0.97, 1.23, 1.42, 1.34, 1.42, 1.3, 0.93, 0.78, 0.74, 0.66, 0.7, 1.57, 0.93, 2.44, 1.08, 2.06, 1.15, 1.91, 1.46, 0.93, 1.0, 1.08, 1.15, 1.19, 1.61, 1.38, 2.02, 0.78, 0.7, 0.81, 0.78, 0.63, 0.7, 0.93, 1.38, 1.57, 0.93, 0.55, 0.7, 0.63, 1.0, 1.53, 1.15, 1.08, 0.93, 1.12, 1.0, 1.57, 1.34, 1.46, 1.38, 1.15, 0.7, 0.63, 0.7, 0.55, 0.7, 1.15, 1.91, 0.7, 0.93, 1.15, 1.42, 1.0, 1.3, 1.08, 0.97, 1.04, 0.97, 0.97, 1.98, 1.98, 1.61, 1.3, 1.46, 1.0, 0.63, 0.55, 0.63, 1.72, 1.76, 2.4, 0.63, 1.38, 1.27, 1.0, 1.15, 1.23, 1.15, 1.23, 1.46, 1.83, 1.38, 1.3, 1.76, 1.3, 1.08, 0.78, 0.55, 0.7, 1.46, 2.06, 1.46, 0.93, 1.19, 1.08, 0.97, 1.04, 1.04, 1.0, 1.08, 1.91, 1.34, 1.34, 0.93, 1.23, 0.78, 0.55, 0.66]

series_names = ["vertical", "horizontal", "magnitude"]
series_colors = ["#ff0000", "#008000", "#0000ff"]
panel_titles = [
    "Movement Go upstairs (Test user #1)",
    "Movement Go upstairs (Test user #2)",
    "Movement Go upstairs (Test user #3)",
    "Movement Go upstairs (Test user #4)",
]
panel_data = [
    [(u1_vertical_t, u1_vertical), (u1_horizontal_t, u1_horizontal), (u1_magnitude_t, u1_magnitude)],
    [(u2_vertical_t, u2_vertical), (u2_horizontal_t, u2_horizontal), (u2_magnitude_t, u2_magnitude)],
    [(u3_vertical_t, u3_vertical), (u3_horizontal_t, u3_horizontal), (u3_magnitude_t, u3_magnitude)],
    [(u4_vertical_t, u4_vertical), (u4_horizontal_t, u4_horizontal), (u4_magnitude_t, u4_magnitude)],
]

W, H = 1062, 705
FONT = "DejaVu Sans"
TICK_SIZE = 21
LABEL_SIZE = 21
TITLE_SIZE = 23.5
LEGEND_SIZE = 21.5

# pixel boxes of the four plotting areas (left, top, right, bottom)
boxes = [(68, 32, 502, 297), (610, 32, 1043, 297), (68, 388, 502, 655), (610, 388, 1043, 655)]

fig = go.Figure()
layout = dict(
    width=W, height=H,
    margin=dict(l=0, r=0, t=0, b=0, autoexpand=False),
    paper_bgcolor="white", plot_bgcolor="white",
    font=dict(family=FONT, size=20, color="black"),
    showlegend=True,
    annotations=[],
)

for i, (box, title, data) in enumerate(zip(boxes, panel_titles, panel_data)):
    n = i + 1
    sfx = "" if n == 1 else str(n)
    l, t, r, b = box
    xd = [l / W, r / W]
    yd = [1 - b / H, 1 - t / H]
    legend_name = "legend" if n == 1 else f"legend{n}"

    for k, ((tx, vy), name, color) in enumerate(zip(data, series_names, series_colors)):
        fig.add_trace(go.Scatter(
            x=tx, y=vy, mode="lines", name=name,
            line=dict(color=color, width=2.5),
            xaxis="x" + sfx, yaxis="y" + sfx,
            legend=legend_name, legendgroup=f"{n}-{k}",
        ))

    axis_style = dict(
        showline=True, linecolor="black", linewidth=1, mirror="ticks",
        ticks="inside", ticklen=5, tickwidth=1, tickcolor="black",
        showgrid=False, zeroline=False, automargin=False,
        tickfont=dict(family=FONT, size=TICK_SIZE, color="black"),
    )
    layout["xaxis" + sfx] = dict(axis_style, domain=xd, range=[0, 10],
                                 tickvals=[0, 2, 4, 6, 8, 10], anchor="y" + sfx,
                                 ticklabelstandoff=-5)
    layout["yaxis" + sfx] = dict(axis_style, domain=yd, range=[-1, 5],
                                 tickvals=[-1, 0, 1, 2, 3, 4, 5], anchor="x" + sfx)

    layout[legend_name] = dict(
        x=(r - 10) / W, y=1 - (t + 12) / H, xanchor="right", yanchor="top",
        bordercolor="black", borderwidth=1, bgcolor="white",
        font=dict(family=FONT, size=LEGEND_SIZE, color="black"),
        tracegroupgap=0, itemwidth=50,
    )

    cx = (l + r) / 2 / W
    layout["annotations"] += [
        dict(text=title, x=cx, y=1 - t / H, xref="paper", yref="paper",
             xanchor="center", yanchor="bottom", showarrow=False,
             font=dict(family=FONT, size=TITLE_SIZE, color="black"), yshift=-3),
        dict(text="Time (s)", x=cx, y=1 - (b + 22) / H, xref="paper", yref="paper",
             xanchor="center", yanchor="top", showarrow=False,
             font=dict(family=FONT, size=LABEL_SIZE, color="black")),
        dict(text="Acceleration Amplitude (g)", x=(l - 46) / W, y=(yd[0] + yd[1]) / 2,
             xref="paper", yref="paper", xanchor="center", yanchor="middle",
             textangle=-90, showarrow=False,
             font=dict(family=FONT, size=LABEL_SIZE, color="black")),
    ]

fig.update_layout(**layout)
fig.write_html("out.html")
